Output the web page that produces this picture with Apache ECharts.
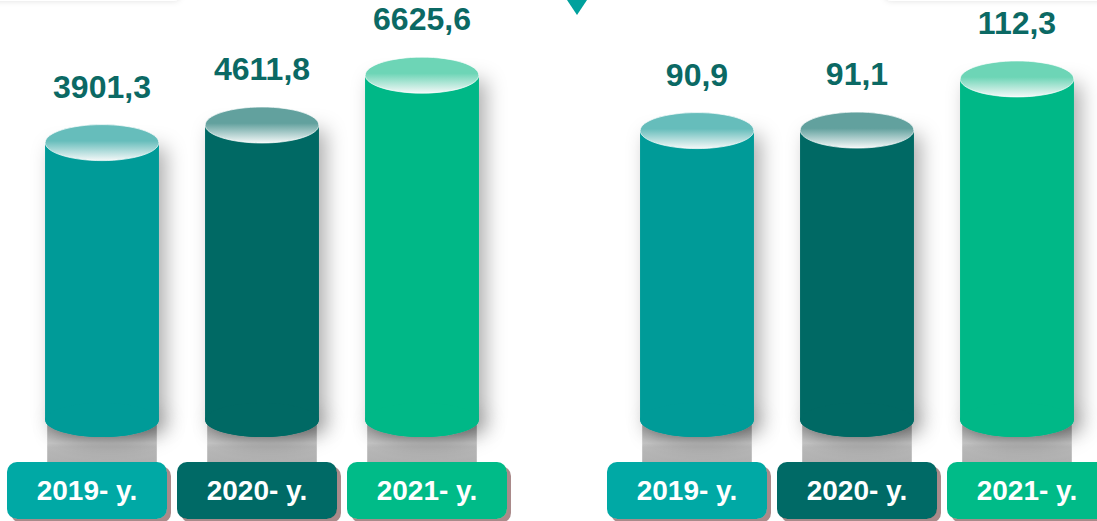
<!DOCTYPE html>
<html>
<head>
<meta charset="utf-8">
<script src="https://cdn.jsdelivr.net/npm/echarts@6/dist/echarts.min.js"></script>
<style>
    html, body { margin: 0; padding: 0; background: #fff; }
    #chart { width: 1097px; height: 521px; }
</style>
</head>
<body>
<div id="chart"></div>
<script>
// 年份标签
const years = ['2019- y.', '2020- y.', '2021- y.'];
// 左侧数值
const leftValues = [3901.3, 4611.8, 6625.6];
// 右侧数值
const rightValues = [90.9, 91.1, 112.3];

// 颜色
const barColors = ['#009b98', '#006964', '#00b887'];
const topColors = ['#66bdbb', '#62a19e', '#6dd5b6'];
const tagColors = ['#00a9a5', '#006b66', '#00bb88'];
const valueColor = '#0b6964';
const fontFamily = '"Liberation Sans", Arial, sans-serif';

/**
 * 生成圆柱绘制函数
 */
function makeCylinder(axisMin) {
    return function (params, api) {
        const i = api.value(0);
        const v = api.value(1);
        const top = api.coord([i, v]);
        const base = api.coord([i, axisMin]);
        const w = api.size([1, 0])[0] * 0.71;
        const cx = top[0];
        const ry = 18;
        const color = barColors[i];
        const bodyShape = { x: cx - w / 2, y: top[1], width: w, height: base[1] - top[1] };
        const footShape = { cx: cx, cy: base[1], rx: w / 2, ry: ry - 1 };
        const shadow = {
            fill: color,
            shadowBlur: 20,
            shadowColor: 'rgba(0,0,0,0.32)',
            shadowOffsetX: 7,
            shadowOffsetY: 5
        };
        return {
            type: 'group',
            children: [
                // 倒影
                {
                    type: 'rect',
                    shape: { x: cx - w / 2 + 2, y: base[1], width: w - 4, height: 462 - base[1] },
                    style: {
                        fill: new echarts.graphic.LinearGradient(0, 0, 0, 1, [
                            { offset: 0, color: '#9a9a9a' },
                            { offset: 0.55, color: '#c6c6c6' },
                            { offset: 0.65, color: '#b9b9b9' },
                            { offset: 1, color: '#b0b0b0' }
                        ])
                    }
                },
                // 阴影层
                { type: 'rect', shape: bodyShape, style: shadow },
                { type: 'ellipse', shape: footShape, style: shadow },
                // 柱身
                { type: 'rect', shape: bodyShape, style: { fill: color } },
                { type: 'ellipse', shape: footShape, style: { fill: color } },
                // 顶部椭圆
                {
                    type: 'ellipse',
                    shape: { cx: cx, cy: top[1], rx: w / 2, ry: ry },
                    style: {
                        fill: new echarts.graphic.LinearGradient(0, 0, 0, 1, [
                            { offset: 0, color: topColors[i] },
                            { offset: 0.45, color: topColors[i] },
                            { offset: 1, color: '#f4f8f8' }
                        ]),
                        stroke: 'rgba(255,255,255,0.7)',
                        lineWidth: 1
                    }
                },
                // 数值
                {
                    type: 'text',
                    x: cx,
                    y: top[1] - 56,
                    style: {
                        text: v.toFixed(1).replace('.', ','),
                        fill: valueColor,
                        fontSize: 32,
                        fontWeight: 'bold',
                        fontFamily: fontFamily,
                        align: 'center',
                        verticalAlign: 'middle'
                    }
                }
            ]
        };
    };
}

// 年份标签样式
const tagRich = {};
tagColors.forEach(function (c, idx) {
    tagRich['t' + idx] = {
        backgroundColor: c,
        color: '#fff',
        fontSize: 28,
        fontWeight: 'bold',
        fontFamily: fontFamily,
        width: 160,
        height: 57,
        lineHeight: 57,
        align: 'center',
        borderRadius: 10,
        shadowColor: '#a98a8a',
        shadowOffsetX: 4,
        shadowOffsetY: 4
    };
});

const leftMin = -7300, leftMax = 9660;
const rightMin = -29, rightMax = 145;

const tagLabel = {
    margin: 7,
    interval: 0,
    formatter: function (v, idx) { return '{t' + idx + '|' + v + '}'; },
    rich: tagRich
};

const chart = echarts.init(document.getElementById('chart'), null, { renderer: 'svg' });

const option = {
    animation: false,
    backgroundColor: '#fff',
    grid: [
        { left: 22, right: 595, top: 0, bottom: 101, outerBoundsMode: 'none' },
        { left: 617, right: 0, top: 0, bottom: 101, outerBoundsMode: 'none' },
        { left: 2, right: 585, top: 400, bottom: 66, outerBoundsMode: 'none' },
        { left: 602, right: -15, top: 400, bottom: 66, outerBoundsMode: 'none' }
    ],
    xAxis: [
        { type: 'category', gridIndex: 0, data: years, show: false },
        { type: 'category', gridIndex: 1, data: years, show: false },
        {
            type: 'category', gridIndex: 2, data: years,
            axisLine: { show: false }, axisTick: { show: false },
            axisLabel: tagLabel
        },
        {
            type: 'category', gridIndex: 3, data: years,
            axisLine: { show: false }, axisTick: { show: false },
            axisLabel: tagLabel
        }
    ],
    yAxis: [
        { type: 'value', gridIndex: 0, min: leftMin, max: leftMax, show: false },
        { type: 'value', gridIndex: 1, min: rightMin, max: rightMax, show: false },
        { type: 'value', gridIndex: 2, show: false },
        { type: 'value', gridIndex: 3, show: false }
    ],
    graphic: [
        {
            type: 'rect',
            shape: { x: -10, y: -30, width: 190, height: 31, r: 6 },
            style: { fill: '#fff', shadowBlur: 6, shadowColor: 'rgba(0,0,0,0.12)' }
        },
        {
            type: 'rect',
            shape: { x: 885, y: -30, width: 230, height: 31, r: 6 },
            style: { fill: '#fff', shadowBlur: 6, shadowColor: 'rgba(0,0,0,0.12)' }
        },
        {
            type: 'polygon',
            shape: { points: [[567, 0], [587, 0], [577, 15]] },
            style: { fill: '#00a19d' }
        }
    ],
    series: [
        {
            type: 'custom',
            xAxisIndex: 0,
            yAxisIndex: 0,
            renderItem: makeCylinder(leftMin),
            data: leftValues.map(function (v, i) { return [i, v]; })
        },
        {
            type: 'custom',
            xAxisIndex: 1,
            yAxisIndex: 1,
            renderItem: makeCylinder(rightMin),
            data: rightValues.map(function (v, i) { return [i, v]; })
        }
    ]
};

chart.setOption(option);

window.addEventListener('resize', function () {
    chart.resize();
});
</script>
</body>
</html>
